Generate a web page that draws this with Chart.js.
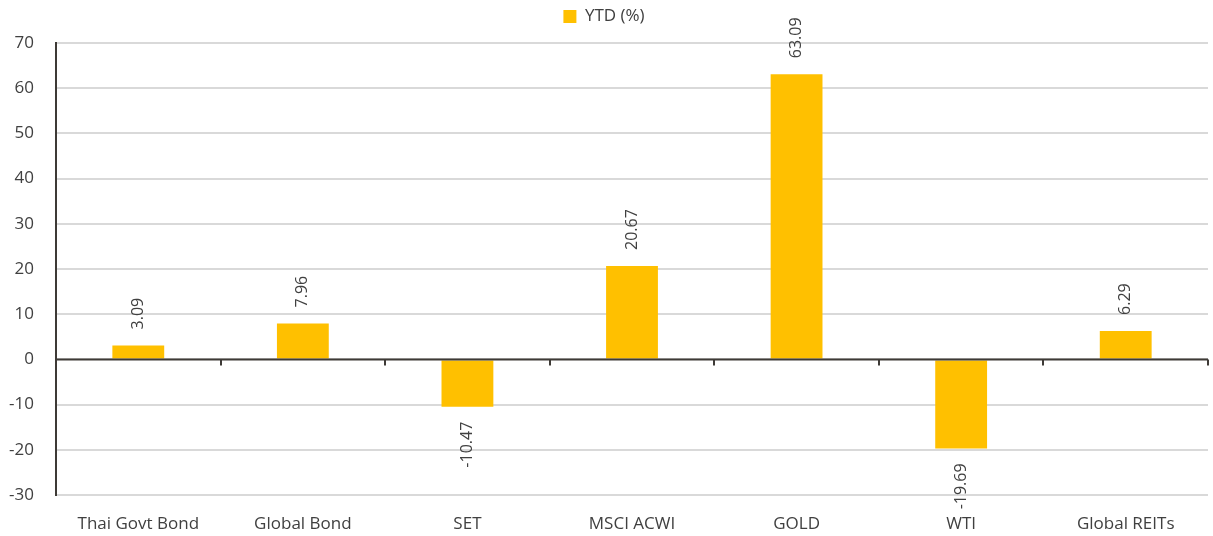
<!DOCTYPE html>
<html>
<head>
<meta charset="utf-8">
<script src="https://cdn.jsdelivr.net/npm/chart.js@4"></script>
<style>
  html, body { margin: 0; padding: 0; background: #fff; }
  #wrap { width: 1213px; height: 536px; }
</style>
</head>
<body>
<div id="wrap"><canvas id="ytdChart" width="1213" height="536"></canvas></div>
<script>
// chart data
const categories = ['Thai Govt Bond', 'Global Bond', 'SET', 'MSCI ACWI', 'GOLD', 'WTI', 'Global REITs'];
const ytdValues = [3.09, 7.96, -10.47, 20.67, 63.09, -19.69, 6.29];
const seriesName = 'YTD (%)';
const yMin = -30, yMax = 70, yStep = 10;

const textColor = '#404040';
const axisColor = '#3e3a36';
const fontFamily = '"Open Sans", sans-serif';

// rotated value labels above / below each bar
const barLabels = {
    id: 'barLabels',
    afterDatasetsDraw(chart) {
        const ctx = chart.ctx;
        const meta = chart.getDatasetMeta(0);
        ctx.save();
        ctx.font = '16px ' + fontFamily;
        ctx.fillStyle = textColor;
        ctx.textBaseline = 'middle';
        meta.data.forEach((bar, i) => {
            const v = ytdValues[i];
            ctx.save();
            if (v >= 0) {
                ctx.translate(bar.x, bar.y - 16);
                ctx.rotate(-Math.PI / 2);
                ctx.textAlign = 'left';
            } else {
                ctx.translate(bar.x, bar.y + 15);
                ctx.rotate(-Math.PI / 2);
                ctx.textAlign = 'right';
            }
            ctx.fillText(v.toFixed(2), 0, 0);
            ctx.restore();
        });
        ctx.restore();
    }
};

// category axis drawn along zero, with small tick marks between categories
const zeroAxis = {
    id: 'zeroAxis',
    afterDatasetsDraw(chart) {
        const ctx = chart.ctx;
        const x = chart.scales.x;
        const y0 = chart.scales.y.getPixelForValue(0);
        const area = chart.chartArea;
        ctx.save();
        ctx.strokeStyle = axisColor;
        ctx.lineWidth = 2;
        ctx.beginPath();
        ctx.moveTo(area.left, y0);
        ctx.lineTo(area.right, y0);
        ctx.stroke();
        ctx.beginPath();
        for (let i = 0; i < categories.length; i++) {
            const px = i < categories.length - 1
                ? (x.getPixelForTick(i) + x.getPixelForTick(i + 1)) / 2
                : area.right;
            ctx.moveTo(Math.round(px), y0);
            ctx.lineTo(Math.round(px), y0 + 6);
        }
        ctx.stroke();
        ctx.restore();
    }
};

// extra space under the legend
const legendGap = {
    id: 'legendGap',
    beforeInit(chart) {
        const fit = chart.legend.fit;
        chart.legend.fit = function () {
            fit.bind(chart.legend)();
            this.height += 8;
        };
    }
};

new Chart(document.getElementById('ytdChart'), {
    type: 'bar',
    data: {
        labels: categories,
        datasets: [{
            label: seriesName,
            data: ytdValues,
            backgroundColor: '#ffc000',
            borderWidth: 0,
            categoryPercentage: 1,
            barPercentage: 0.315
        }]
    },
    options: {
        responsive: false,
        animation: false,
        layout: { padding: { left: 0, right: 5, top: 0, bottom: 0 } },
        plugins: {
            legend: {
                position: 'top',
                labels: {
                    boxWidth: 13,
                    boxHeight: 13,
                    padding: 8,
                    color: textColor,
                    font: { family: fontFamily, size: 17 }
                }
            },
            tooltip: { enabled: false }
        },
        scales: {
            x: {
                grid: { display: false },
                border: { display: false },
                afterFit(scale) { scale.height = 41; },
                ticks: {
                    color: textColor,
                    padding: 11,
                    font: { family: fontFamily, size: 17 }
                }
            },
            y: {
                min: yMin,
                max: yMax,
                border: { display: true, color: axisColor, width: 2 },
                afterFit(scale) { scale.width = 56; },
                grid: {
                    color: '#d9d9d9',
                    lineWidth: 2,
                    drawTicks: false
                },
                ticks: {
                    stepSize: yStep,
                    color: textColor,
                    padding: 22,
                    font: { family: fontFamily, size: 17 }
                }
            }
        }
    },
    plugins: [legendGap, barLabels, zeroAxis]
});
</script>
</body>
</html>
